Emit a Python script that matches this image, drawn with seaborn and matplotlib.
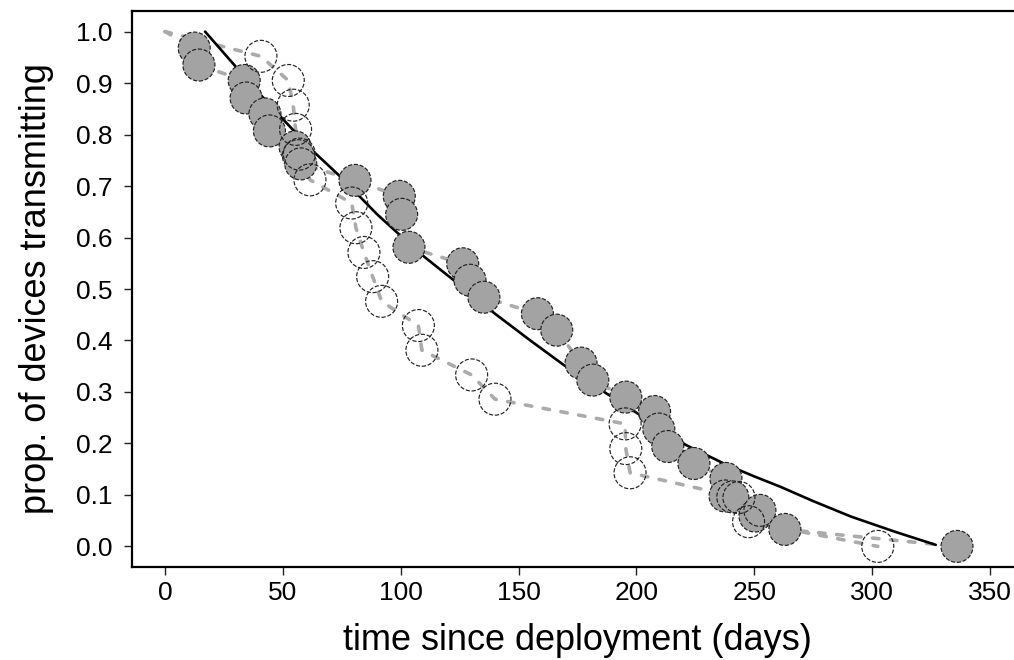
import matplotlib
matplotlib.use("Agg")
import matplotlib.pyplot as plt
import numpy as np
import pandas as pd
import seaborn as sns

# ---- data ----
# grey filled devices (time since deployment, proportion transmitting)
filled_days = [12.4, 14.4, 33.6, 34.4, 42.4, 44.3, 55.2, 56.6, 57.6, 80.6,
               99.4, 100.4, 103.5, 126.3, 129.4, 135.3, 158.0, 166.2, 176.5,
               181.5, 195.5, 207.7, 209.5, 213.3, 224.4, 238.0, 237.6, 240.9,
               250.3, 252.4, 263.0, 336.0]
filled_prop = [0.968, 0.935, 0.905, 0.871, 0.840, 0.807, 0.776, 0.759, 0.743,
               0.711, 0.680, 0.645, 0.581, 0.549, 0.517, 0.484, 0.452, 0.420,
               0.356, 0.323, 0.290, 0.262, 0.228, 0.194, 0.161, 0.132, 0.098,
               0.096, 0.059, 0.070, 0.033, 0.0]

# open devices
open_days = [40.7, 52.3, 54.4, 55.4, 57.0, 61.5, 79.2, 81.0, 84.4, 88.1,
             91.9, 107.5, 109.0, 130.1, 140.0, 195.2, 195.5, 197.3, 243.5,
             247.6, 302.4]
open_prop = [0.952, 0.905, 0.857, 0.810, 0.762, 0.712, 0.667, 0.619, 0.571,
             0.524, 0.476, 0.429, 0.381, 0.333, 0.286, 0.238, 0.190, 0.143,
             0.095, 0.048, 0.0]

# both observed curves start at full transmission at day 0
start_day = [0.0]
start_prop = [1.0]

# fitted (solid) curve
fit_days = [17, 30, 40, 50, 63, 74, 90, 108, 117, 130, 140, 155, 169, 187,
            205, 221, 238, 250, 261, 275, 291, 310, 327]
fit_prop = [1.0, 0.932, 0.88, 0.83, 0.767, 0.72, 0.645, 0.57, 0.537, 0.49,
            0.452, 0.40, 0.353, 0.298, 0.245, 0.197, 0.159, 0.136, 0.116,
            0.088, 0.058, 0.028, 0.003]

xticks = [0, 50, 100, 150, 200, 250, 300, 350]
yticks = [0.0, 0.1, 0.2, 0.3, 0.4, 0.5, 0.6, 0.7, 0.8, 0.9, 1.0]
ytick_labels = ["0.0", "0.1", "0.2", "0.3", "0.4", "0.5", "0.6", "0.7",
                "0.8", "0.9", "1.0"]

# ---- tables ----
df_filled = pd.DataFrame({"days": filled_days, "prop": filled_prop})
df_open = pd.DataFrame({"days": open_days, "prop": open_prop})
df_filled_line = pd.DataFrame({"days": start_day + filled_days,
                               "prop": start_prop + filled_prop})
df_open_line = pd.DataFrame({"days": start_day + open_days,
                             "prop": start_prop + open_prop})
df_fit = pd.DataFrame({"days": fit_days, "prop": fit_prop})

sns.set_theme(style="ticks")
plt.rcParams["font.family"] = ["Liberation Sans", "DejaVu Sans"]
plt.rcParams["text.color"] = "black"
plt.rcParams["axes.labelcolor"] = "black"

W, H = 1014, 660
fig = plt.figure(figsize=(W / 100, H / 100), dpi=100)
ax = fig.add_axes([132 / W, 1 - 567 / H, (W - 132) / W, 556 / H])

dash_grey = "#ababab"
sns.lineplot(data=df_open_line, x="days", y="prop", sort=False, ax=ax,
             color=dash_grey, linewidth=2.6, dashes=False, zorder=1)
sns.lineplot(data=df_filled_line, x="days", y="prop", sort=False, ax=ax,
             color=dash_grey, linewidth=2.6, dashes=False, zorder=1)
for ln in ax.lines:
    ln.set_dashes((1.8, 3.2))
    ln.set_dash_capstyle("round")

sns.lineplot(data=df_fit, x="days", y="prop", sort=False, ax=ax,
             color="black", linewidth=1.9, zorder=2)

sns.scatterplot(data=df_filled, x="days", y="prop", ax=ax, s=530,
                color="#a3a3a3", edgecolor="#222222", linewidth=0.85,
                zorder=3)
sns.scatterplot(data=df_open, x="days", y="prop", ax=ax, s=530,
                color="white", edgecolor="#222222", linewidth=0.85,
                zorder=4)
colls = ax.collections
colls[-1].set_facecolor("none")
for c in colls[-2:]:
    c.set_linestyle((0, (3.5, 1.5)))

ax.set_xlim(-14, 360.2)
ax.set_ylim(-0.04, 1.04)
ax.set_xticks(xticks)
ax.set_xticklabels([str(v) for v in xticks])
ax.set_yticks(yticks)
ax.set_yticklabels(ytick_labels)

ax.tick_params(axis="both", which="major", labelsize=19, length=6,
               width=1.0, color="#222222", labelcolor="black", direction="out")
ax.tick_params(axis="x", pad=4)
ax.tick_params(axis="y", pad=8)

for side in ["left", "bottom", "top"]:
    ax.spines[side].set_visible(True)
    ax.spines[side].set_linewidth(1.6)
    ax.spines[side].set_color("black")
ax.spines["right"].set_visible(False)
ax.grid(False)
ax.set_facecolor("white")

ax.set_xlabel("time since deployment (days)", fontsize=26, va="center",
              color="black")
ax.set_ylabel("prop. of devices transmitting", fontsize=26, va="center",
              color="black")
ax.xaxis.set_label_coords((577 - 132) / (W - 132), (567 - 641) / 556)
ax.yaxis.set_label_coords((37 - 132) / (W - 132), (567 - 289) / 556)

fig.savefig("out.png", dpi=100, facecolor="white")
